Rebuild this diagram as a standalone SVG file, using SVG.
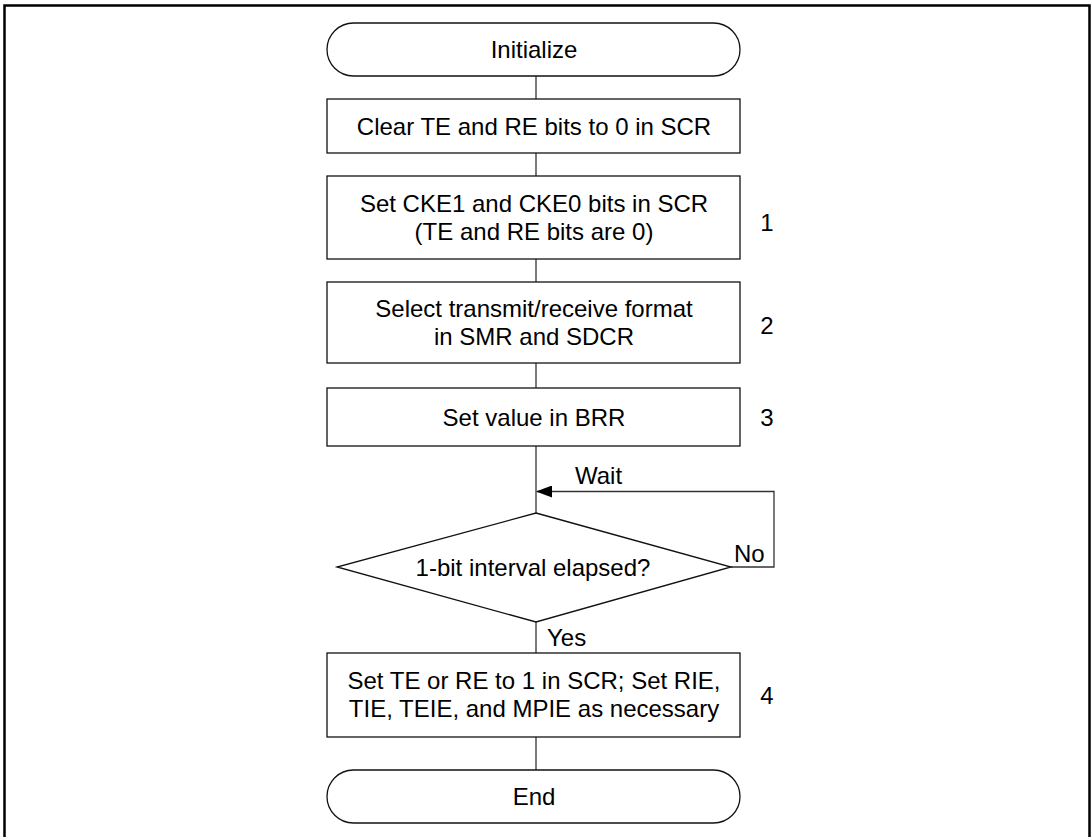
<svg xmlns="http://www.w3.org/2000/svg" width="1091" height="837" viewBox="0 0 1091 837">
<style>
.b{fill:#fff;stroke:#111;stroke-width:1.3}
.c{fill:none;stroke:#333;stroke-width:1.3}
.t{font-family:"Liberation Sans",Arial,sans-serif;font-size:24px;fill:#000;text-anchor:middle}
.s{text-anchor:start}
</style>
<defs>
<marker id="ah" markerWidth="16" markerHeight="12" refX="15" refY="6" orient="auto" markerUnits="userSpaceOnUse">
<path d="M0,0 L16,6 L0,12 z" fill="#000"/>
</marker>
</defs>
<rect x="0" y="0" width="1091" height="837" fill="#fff"/>
<path d="M4.5,837 V5.5 H1089.5 V837" fill="none" stroke="#000" stroke-width="2.5"/>
<g id="connectors">
<path class="c" d="M536,76 V99"/>
<path class="c" d="M536,153 V176"/>
<path class="c" d="M536,259 V282"/>
<path class="c" d="M536,363 V388"/>
<path class="c" d="M536,446 V513"/>
<path class="c" d="M731,567 H774 V491.5 H537" marker-end="url(#ah)"/>
<path class="c" d="M536,622 V653"/>
<path class="c" d="M536,737 V770"/>
</g>
<g id="n-init">
<rect class="b" x="327" y="23" width="413" height="53" rx="26.5"/>
<text class="t" x="534" y="58">Initialize</text>
</g>
<g id="n-clear">
<rect class="b" x="327" y="99" width="413" height="54"/>
<text class="t" x="534" y="134.5">Clear TE and RE bits to 0 in SCR</text>
</g>
<g id="n-cke">
<rect class="b" x="327" y="176" width="413" height="83"/>
<text class="t" x="534" y="212">Set CKE1 and CKE0 bits in SCR</text>
<text class="t" x="534" y="240">(TE and RE bits are 0)</text>
<text class="t" x="767" y="230.5">1</text>
</g>
<g id="n-select">
<rect class="b" x="327" y="282" width="413" height="81"/>
<text class="t" x="534" y="317">Select transmit/receive format</text>
<text class="t" x="534" y="345">in SMR and SDCR</text>
<text class="t" x="767" y="334">2</text>
</g>
<g id="n-brr">
<rect class="b" x="327" y="388" width="413" height="58"/>
<text class="t" x="534" y="425.5">Set value in BRR</text>
<text class="t" x="767" y="425.5">3</text>
</g>
<g id="n-decision">
<polygon class="b" points="536,513 731,567 536,622 337,567"/>
<text class="t" x="533" y="576">1-bit interval elapsed?</text>
<text class="t s" x="575" y="483.5">Wait</text>
<text class="t s" x="734" y="561.5">No</text>
<text class="t s" x="547" y="645.5">Yes</text>
</g>
<g id="n-set">
<rect class="b" x="327" y="653" width="413" height="84"/>
<text class="t" x="534" y="689">Set TE or RE to 1 in SCR; Set RIE,</text>
<text class="t" x="534" y="717">TIE, TEIE, and MPIE as necessary</text>
<text class="t" x="767" y="703.5">4</text>
</g>
<g id="n-end">
<rect class="b" x="327" y="770" width="413" height="53" rx="26.5"/>
<text class="t" x="534" y="805">End</text>
</g>
</svg>
